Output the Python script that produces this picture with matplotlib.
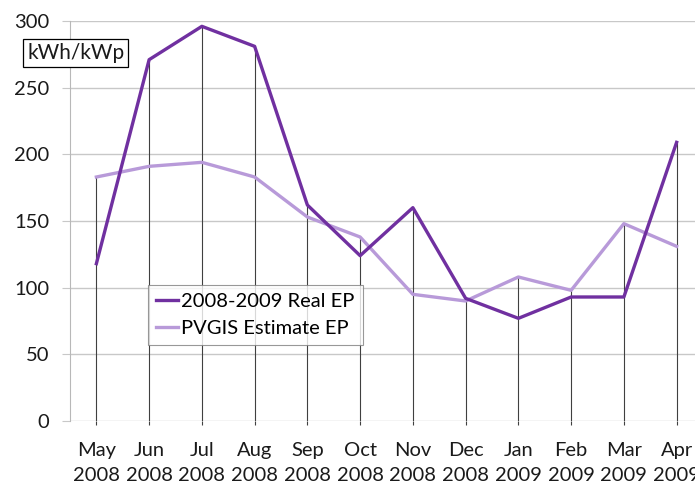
import numpy as np
import matplotlib.pyplot as plt

plt.rcParams['font.family'] = ['Lato', 'DejaVu Sans']

months = ['May\n2008', 'Jun\n2008', 'Jul\n2008', 'Aug\n2008', 'Sep\n2008', 'Oct\n2008',
          'Nov\n2008', 'Dec\n2008', 'Jan\n2009', 'Feb\n2009', 'Mar\n2009', 'Apr\n2009']
real_ep = [118, 271, 296, 281, 162, 124, 160, 92, 77, 93, 93, 209]
pvgis_ep = [183, 191, 194, 183, 153, 138, 95, 90, 108, 98, 148, 131]

x = np.arange(len(months))

fig = plt.figure(figsize=(6.95, 4.86), dpi=100)
# plot area runs past the right edge of the picture, like the cropped original
ax = fig.add_axes([70 / 695, 1 - 421 / 486, 633 / 695, 400 / 486])

ax.set_ylim(0, 300)
ax.set_xlim(-0.5, len(months) - 0.5)
ax.set_yticks(range(0, 301, 50))
ax.yaxis.grid(True, color='#c8c8c8', linewidth=1)
ax.set_axisbelow(True)
for s in ['top', 'right', 'bottom']:
    ax.spines[s].set_visible(False)
ax.spines['left'].set_color('#b8b8b8')

# drop lines from the higher point down to the axis
tops = np.maximum(real_ep, pvgis_ep)
ax.vlines(x, 0, tops, color='#404040', linewidth=0.8, zorder=1)

ax.plot(x, pvgis_ep, color='#b89ad9', linewidth=2.4, label='PVGIS Estimate EP', zorder=2)
ax.plot(x, real_ep, color='#7030a0', linewidth=2.4, label='2008-2009 Real EP', zorder=3)

ax.set_xticks(x)
ax.set_xticklabels(months, fontsize=14.5, linespacing=1.55, color='#1a1a1a')
ax.tick_params(axis='x', length=3, color='#404040', pad=12)
ax.tick_params(axis='y', length=6, color='#c8c8c8', labelsize=14.5, labelcolor='#1a1a1a', pad=9)

h, l = ax.get_legend_handles_labels()
leg = ax.legend(h[::-1], l[::-1], loc='upper left',
                bbox_to_anchor=((148 - 70) / 633, (421 - 285) / 400),
                fontsize=14.5, frameon=True, fancybox=False, handlelength=1.1,
                handletextpad=0.15, borderpad=0.4, labelspacing=0.5, borderaxespad=0)
leg.get_frame().set_edgecolor('#7f7f7f')
leg.get_frame().set_linewidth(0.8)

ax.text((27 - 70) / 633, (421 - 53) / 400, 'kWh/kWp', transform=ax.transAxes, fontsize=15,
        va='center', ha='left', clip_on=False, color='#1a1a1a',
        bbox=dict(boxstyle='square,pad=0.2', facecolor='white', edgecolor='black', linewidth=0.9))

fig.savefig('out.png', dpi=100)
